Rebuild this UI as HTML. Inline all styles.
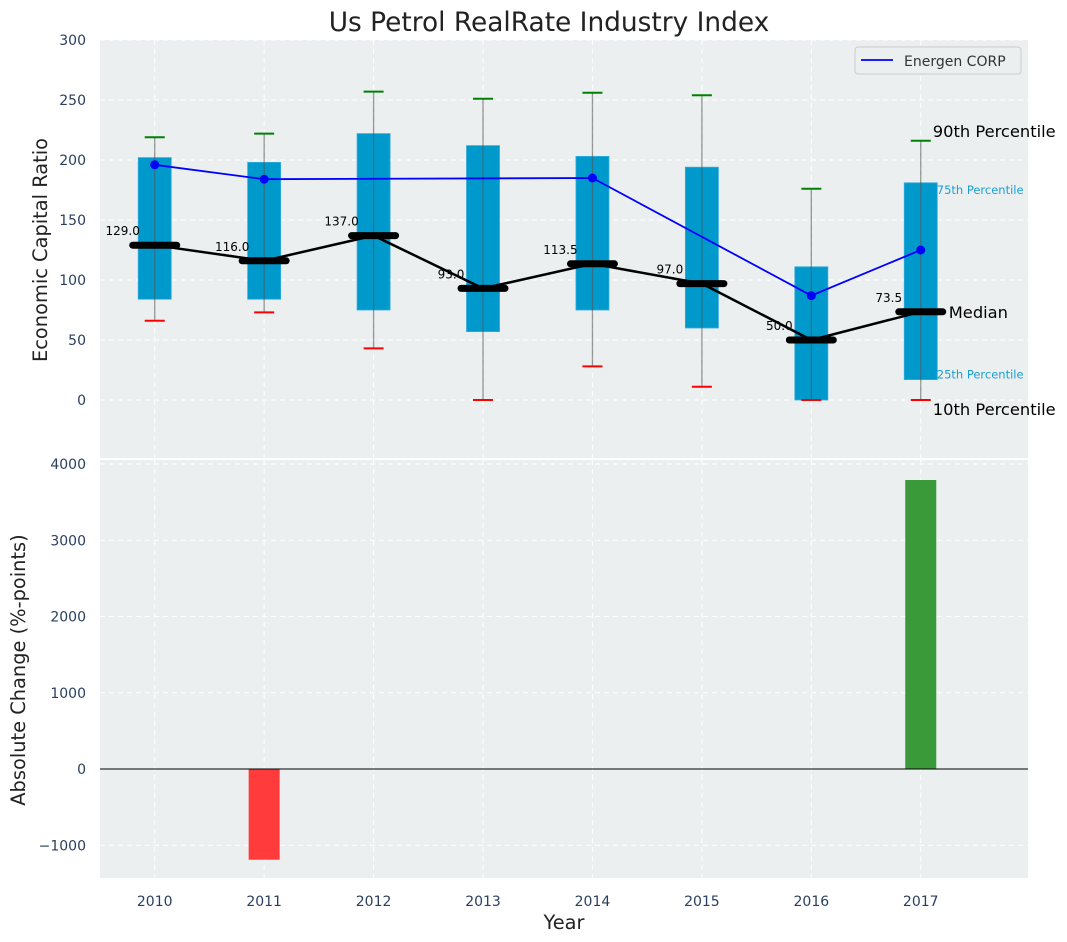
<!DOCTYPE html>
<html><head><meta charset="utf-8"><style>
body{margin:0;background:#fff;}
svg{display:block;font-family:"DejaVu Sans","Liberation Sans",sans-serif;}
</style></head><body>
<svg id="chart" width="1067" height="942" viewBox="0 0 1067 942" xmlns="http://www.w3.org/2000/svg"></svg>
<script>
const years = [2010, 2011, 2012, 2013, 2014, 2015, 2016, 2017];
const p10 = [66, 73, 43, 0, 28, 11, 0, 0];
const p25 = [84, 84, 75, 57, 75, 60, 0, 17];
const medians = [129, 116, 137, 93, 113.5, 97, 50, 73.5];
const p75 = [202, 198, 222, 212, 203, 194, 111, 181];
const p90 = [219, 222, 257, 251, 256, 254, 176, 216];
const energenYears = [2010, 2011, 2014, 2016, 2017];
const energenValues = [196, 184, 185, 87, 125];
const changeYears = [2011, 2017];
const changeValues = [-1190, 3790];
const topTicks = [0, 50, 100, 150, 200, 250, 300];
const botTicks = [-1000, 0, 1000, 2000, 3000, 4000];

const svg = document.getElementById('chart');
const NS = 'http://www.w3.org/2000/svg';
function mk(tag, attrs, parent, text) {
  const e = document.createElementNS(NS, tag);
  for (const k in attrs) e.setAttribute(k, attrs[k]);
  if (text !== undefined) e.textContent = text;
  (parent || svg).appendChild(e);
  return e;
}
const L = 100, R = 1028;
const x = v => L + (v - 2009.5) / (2017.98 - 2009.5) * (R - L);
const yT = v => 400 - v * 1.2;
const yB = v => 769 - v * 0.07625;
const tickCol = '#2a3f5f';

const p1 = mk('rect', {x: L, y: 40, width: R - L, height: 418, fill: '#ebeff0'});


const p2 = mk('rect', {x: L, y: 460, width: R - L, height: 418, fill: '#ebeff0'});



years.forEach(yr => {
  mk('line', {x1: x(yr), x2: x(yr), y1: 40, y2: 458, stroke: '#fff', 'stroke-dasharray': '5,4'});
  mk('line', {x1: x(yr), x2: x(yr), y1: 460, y2: 878, stroke: '#fff', 'stroke-dasharray': '5,4'});
});
topTicks.forEach(t => {
  mk('line', {x1: L, x2: R, y1: yT(t), y2: yT(t), stroke: '#fff', 'stroke-dasharray': '5,4'});
  const tl = mk('text', {x: 86, y: yT(t) + 5, 'text-anchor': 'end', 'font-size': 14, fill: tickCol}, svg, String(t));
  
  
});
botTicks.forEach(t => {
  mk('line', {x1: L, x2: R, y1: yB(t), y2: yB(t), stroke: '#fff', 'stroke-dasharray': '5,4'});
  const tl = mk('text', {x: 86, y: yB(t) + 5, 'text-anchor': 'end', 'font-size': 14, fill: tickCol}, svg, t < 0 ? '\u2212' + String(-t) : String(t));
  
  
});
years.forEach(yr => {
  const tl = mk('text', {x: x(yr), y: 906, 'text-anchor': 'middle', 'font-size': 14, fill: tickCol}, svg, String(yr));
  
  
});

years.forEach((yr, i) => {
  const cx = x(yr);
  const b = mk('rect', {x: cx - 16.5, y: yT(p75[i]), width: 33, height: yT(p25[i]) - yT(p75[i]), fill: '#0099cc', stroke: '#33aadd', 'stroke-width': 0.8});
  
  
  const w = mk('line', {x1: cx, x2: cx, y1: yT(p90[i]), y2: yT(p10[i]), stroke: '#555', 'stroke-opacity': 0.6, 'stroke-width': 1.3});
  
  
  const c1 = mk('line', {x1: cx - 10, x2: cx + 10, y1: yT(p90[i]), y2: yT(p90[i]), stroke: 'green', 'stroke-width': 2});
  
  
  const c2 = mk('line', {x1: cx - 10, x2: cx + 10, y1: yT(p10[i]), y2: yT(p10[i]), stroke: 'red', 'stroke-width': 2});
  
  
});
const ml = mk('polyline', {points: years.map((yr, i) => x(yr) + ',' + yT(medians[i])).join(' '), fill: 'none', stroke: '#000', 'stroke-width': 2.5});


years.forEach((yr, i) => {
  const cx = x(yr);
  const m = mk('line', {x1: cx - 22, x2: cx + 22, y1: yT(medians[i]), y2: yT(medians[i]), stroke: '#000', 'stroke-width': 7, 'stroke-linecap': 'round'});
  
  
  const t = mk('text', {x: cx - 32, y: yT(medians[i]) - 10, 'text-anchor': 'middle', 'font-size': 12, fill: '#000'}, svg, medians[i].toFixed(1));
  
  
});
const el = mk('polyline', {points: energenYears.map((yr, i) => x(yr) + ',' + yT(energenValues[i])).join(' '), fill: 'none', stroke: '#0000ff', 'stroke-width': 1.8});


energenYears.forEach((yr, i) => {
  const d = mk('circle', {cx: x(yr), cy: yT(energenValues[i]), r: 4.5, fill: '#0000ff'});
  
  
});
const lx = x(2017);
const lastI = years.length - 1;
[['90th Percentile', lx + 12, yT(p90[lastI]) - 4, 16.3, '#000'],
 ['75th Percentile', lx + 16, yT(p75[lastI]) + 11, 11.5, '#1aa0d0'],
 ['Median', lx + 28, yT(medians[lastI]) + 6, 16.3, '#000'],
 ['25th Percentile', lx + 16, yT(p25[lastI]) - 1, 11.5, '#1aa0d0'],
 ['10th Percentile', lx + 12, yT(p10[lastI]) + 15, 16.3, '#000']].forEach(a => {
  const t = mk('text', {x: a[1], y: a[2], 'font-size': a[3], fill: a[4]}, svg, a[0]);
  
  
});
const lg = mk('g', {});


mk('rect', {x: 855, y: 47, width: 166, height: 27, rx: 3, fill: '#ebeff0', stroke: '#ccc'}, lg);
mk('line', {x1: 861, x2: 893, y1: 60, y2: 60, stroke: '#0000ff', 'stroke-width': 1.8}, lg);
mk('text', {x: 904, y: 66, 'font-size': 14, fill: '#333'}, lg, 'Energen CORP');

changeYears.forEach((yr, i) => {
  const v = changeValues[i];
  const b = mk('rect', {x: x(yr) - 15.5, y: Math.min(yB(v), yB(0)), width: 31, height: Math.abs(yB(v) - yB(0)), fill: v < 0 ? '#ff3b3b' : '#3a9a3a'});
  
  
});
const zl = mk('line', {x1: L, x2: R, y1: yB(0), y2: yB(0), stroke: '#000', 'stroke-width': 1});



const tt = mk('text', {x: 549, y: 31, 'text-anchor': 'middle', 'font-size': 26.4, fill: '#222'}, svg, 'Us Petrol RealRate Industry Index');


const ya = mk('text', {x: 0, y: 0, 'text-anchor': 'middle', 'font-size': 19.4, fill: '#222', transform: 'translate(47,250) rotate(-90)'}, svg, 'Economic Capital Ratio');


const yb = mk('text', {x: 0, y: 0, 'text-anchor': 'middle', 'font-size': 19.4, fill: '#222', transform: 'translate(25,670) rotate(-90)'}, svg, 'Absolute Change (%-points)');


const xa = mk('text', {x: 564, y: 929, 'text-anchor': 'middle', 'font-size': 19.4, fill: '#222'}, svg, 'Year');


</script>
</body></html>
